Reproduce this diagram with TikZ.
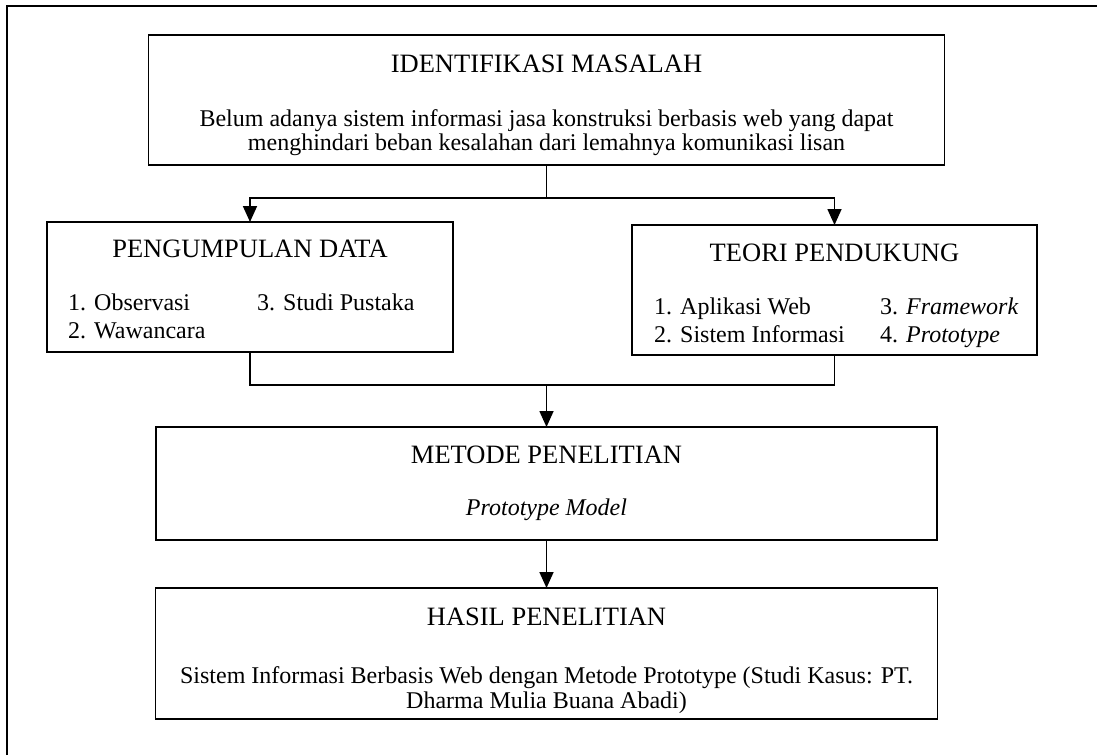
\documentclass[tikz,border=0pt]{standalone}
\usepackage{fontspec}
\setmainfont{Liberation Serif}
\usetikzlibrary{arrows.meta}
\tikzset{
  box/.style={draw, line width=1.7pt, rectangle, inner sep=0pt, outer sep=0pt},
  ttl/.style={anchor=base, inner sep=0pt, font=\fontsize{26.5}{30}\selectfont},
  txt/.style={anchor=base, inner sep=0pt, font=\fontsize{24}{27}\selectfont},
  itm/.style={anchor=base west, inner sep=0pt, font=\fontsize{24}{27}\selectfont},
  conn/.style={line width=1.7pt},
  arr/.style={line width=1.7pt, -{Triangle[length=16pt,width=14pt]}}
}
\begin{document}
\begin{tikzpicture}[x=1pt,y=-1pt]
\useasboundingbox (0,0) rectangle (1097,755);
% outer frame (cropped)
\draw[line width=2pt] (6.5,755) -- (6.5,5.5) -- (1097,5.5);

% boxes
\node[box, minimum width=796pt, minimum height=130pt] (b1) at (546.5,100) {};
\node[box, minimum width=406pt, minimum height=130pt] (b2) at (250,287) {};
\node[box, minimum width=405pt, minimum height=130pt] (b3) at (834.5,290) {};
\node[box, minimum width=781pt, minimum height=113pt] (b4) at (546.5,483.5) {};
\node[box, minimum width=782pt, minimum height=131pt] (b5) at (546.5,653.5) {};

% box 1 text
\node[ttl] (t1) at (546.5,72) {IDENTIFIKASI MASALAH};
\node[txt] (t1a) at (546.5,126) {Belum adanya sistem informasi jasa konstruksi berbasis web yang dapat};
\node[txt] (t1b) at (546.5,150) {menghindari beban kesalahan dari lemahnya komunikasi lisan};

% box 2 text
\node[ttl] (t2) at (250,257) {PENGUMPULAN DATA};
\node[itm] (i21) at (68,310) {1. Observasi};
\node[itm] (i22) at (68,338) {2. Wawancara};
\node[itm] (i23) at (257,310) {3. Studi Pustaka};

% box 3 text
\node[ttl] (t3) at (834.5,261) {TEORI PENDUKUNG};
\node[itm] (i31) at (654,314) {1. Aplikasi Web};
\node[itm] (i32) at (654,342) {2. Sistem Informasi};
\node[itm] (i33) at (880,314) {3. \textit{Framework}};
\node[itm] (i34) at (880,342) {4. \textit{Prototype}};

% box 4 text
\node[ttl] (t4) at (546.5,463) {METODE PENELITIAN};
\node[txt] (t4a) at (546.5,515) {\textit{Prototype Model}};

% box 5 text
\node[ttl] (t5) at (546.5,625) {HASIL PENELITIAN};
\node[txt] (t5a) at (546.5,683) {Sistem Informasi Berbasis Web dengan Metode Prototype (Studi Kasus: PT.};
\node[txt] (t5b) at (546.5,708) {Dharma Mulia Buana Abadi)};

% connectors
\coordinate (j1) at (b1.south |- 0,198);
\coordinate (j2) at (b4.north |- 0,385);
\draw[conn] (b1.south) -- (j1);
\draw[arr] (j1) -| (b2.north);
\draw[arr] (j1) -| (b3.north);
\draw[conn] (b2.south) |- (j2);
\draw[conn] (b3.south) |- (j2);
\draw[arr] (j2) -- (b4.north);
\draw[arr] (b4.south) -- (b5.north);
\end{tikzpicture}
\end{document}
